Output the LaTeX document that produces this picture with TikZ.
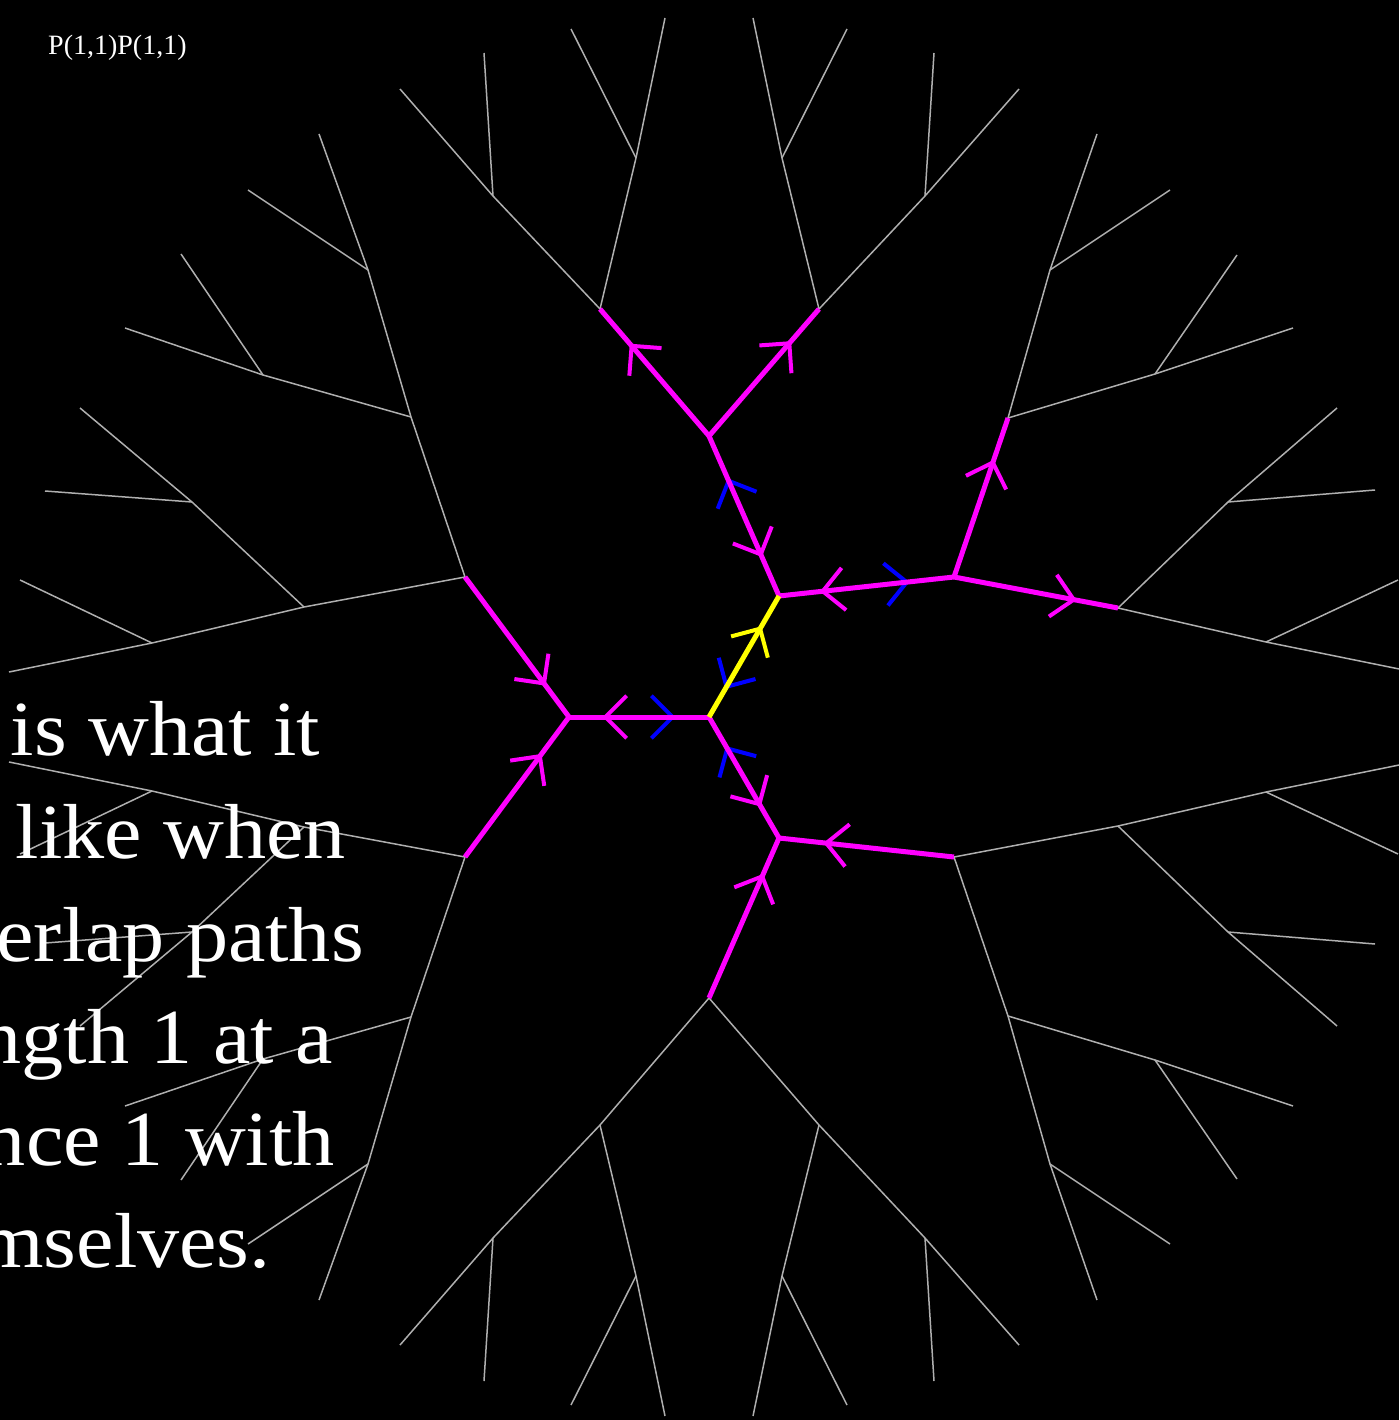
\documentclass[tikz,border=0pt]{standalone}
\usepackage{fontspec}
\usepackage{graphicx}
\setmainfont{Liberation Serif}
\usetikzlibrary{calc}
\definecolor{mag}{RGB}{255,0,255}
\definecolor{blu}{RGB}{0,0,255}
\definecolor{yel}{RGB}{255,255,0}
\definecolor{edgegray}{RGB}{175,175,175}
\tikzset{
  grayedge/.style={edgegray, line width=1.5pt},
  pathedge/.style={line width=5pt},
  chevline/.style={line width=4pt},
  bigtext/.style={text=white, anchor=base east, inner sep=0pt, font=\fontsize{78}{90}\selectfont},
  toplabel/.style={text=white, anchor=base west, inner sep=0pt, font=\fontsize{28}{32}\selectfont}
}
\newcommand\arrowchev[4]{%
  \coordinate (tip) at ($(#2)!#4!(#3)$);
  \draw[chevline,#1] ($(tip)!30pt!45:(#2)$) -- (tip) -- ($(tip)!30pt!-45:(#2)$);}
\begin{document}
\begin{tikzpicture}[x=1pt,y=-1pt]
\path[use as bounding box] (0,0) rectangle (1399,1420);
\fill[black] (0,0) rectangle (1399,1420);
\clip (0,0) rectangle (1399,1420);
% ---- vertices: top half ----
\coordinate (A) at (709,717);
\coordinate (C) at (569,717);
\coordinate (B) at (779,596);
\coordinate (E) at (709,436);
\coordinate (F) at (954,577);
\coordinate (G) at (465,577);
\coordinate (E1) at (600,309);  \coordinate (E2) at (819,309);
\coordinate (F1) at (1008,418); \coordinate (F2) at (1118,608);
\coordinate (G1) at (411,417);  \coordinate (G2) at (304,607);
\coordinate (E11) at (493,196); \coordinate (E12) at (636,158);
\coordinate (E21) at (925,196); \coordinate (E22) at (782,158);
\coordinate (F11) at (1050,270); \coordinate (F12) at (1155,374);
\coordinate (F21) at (1228,502); \coordinate (F22) at (1266,642);
\coordinate (G11) at (368,270); \coordinate (G12) at (263,375);
\coordinate (G21) at (192,502); \coordinate (G22) at (152,643);
\coordinate (E111) at (400,89);  \coordinate (E112) at (484,53);
\coordinate (E121) at (571,29);  \coordinate (E122) at (665,18);
\coordinate (E211) at (1019,89); \coordinate (E212) at (934,53);
\coordinate (E221) at (847,29);  \coordinate (E222) at (753,18);
\coordinate (F111) at (1097,134); \coordinate (F112) at (1170,190);
\coordinate (F121) at (1237,255); \coordinate (F122) at (1293,328);
\coordinate (F211) at (1337,408); \coordinate (F212) at (1375,490);
\coordinate (F221) at (1398,580); \coordinate (F222) at (1409,671);
\coordinate (G111) at (319,134); \coordinate (G112) at (248,190);
\coordinate (G121) at (181,254); \coordinate (G122) at (125,328);
\coordinate (G211) at (80,408);  \coordinate (G212) at (45,491);
\coordinate (G221) at (20,580);  \coordinate (G222) at (9,672);
% ---- vertices: bottom half ----
\coordinate (D) at (779,838);
\coordinate (J) at (709,998);
\coordinate (I) at (954,857);
\coordinate (H) at (465,857);
\coordinate (J1) at (600,1125);  \coordinate (J2) at (819,1125);
\coordinate (I1) at (1008,1016); \coordinate (I2) at (1118,826);
\coordinate (H1) at (411,1017);  \coordinate (H2) at (304,827);
\coordinate (J11) at (493,1238); \coordinate (J12) at (636,1276);
\coordinate (J21) at (925,1238); \coordinate (J22) at (782,1276);
\coordinate (I11) at (1050,1164); \coordinate (I12) at (1155,1060);
\coordinate (I21) at (1228,932); \coordinate (I22) at (1266,792);
\coordinate (H11) at (368,1164); \coordinate (H12) at (263,1059);
\coordinate (H21) at (192,932);  \coordinate (H22) at (152,791);
\coordinate (J111) at (400,1345); \coordinate (J112) at (484,1381);
\coordinate (J121) at (571,1405); \coordinate (J122) at (665,1416);
\coordinate (J211) at (1019,1345); \coordinate (J212) at (934,1381);
\coordinate (J221) at (847,1405); \coordinate (J222) at (753,1416);
\coordinate (I111) at (1097,1300); \coordinate (I112) at (1170,1244);
\coordinate (I121) at (1237,1179); \coordinate (I122) at (1293,1106);
\coordinate (I211) at (1337,1026); \coordinate (I212) at (1375,944);
\coordinate (I221) at (1398,854); \coordinate (I222) at (1409,763);
\coordinate (H111) at (319,1300); \coordinate (H112) at (248,1244);
\coordinate (H121) at (181,1180); \coordinate (H122) at (125,1106);
\coordinate (H211) at (80,1026);  \coordinate (H212) at (45,943);
\coordinate (H221) at (20,854);   \coordinate (H222) at (9,762);
% ---- gray tree ----
\foreach \p in {G,H,I,J} {
  \draw[grayedge] (\p) -- (\p1);
  \draw[grayedge] (\p) -- (\p2);
}
\foreach \r in {E1,E2,F1,F2,G1,G2,H1,H2,I1,I2,J1,J2} {
  \foreach \a in {1,2} {
    \draw[grayedge] (\r) -- (\r\a);
    \foreach \b in {1,2} {
      \draw[grayedge] (\r\a) -- (\r\a\b);
    }
  }
}
% ---- blue chevrons (under the paths) ----
\arrowchev{blu}{B}{A}{0.75}
\arrowchev{blu}{C}{A}{0.74}
\arrowchev{blu}{D}{A}{0.74}
\arrowchev{blu}{B}{E}{0.72}
\arrowchev{blu}{B}{F}{0.73}
% ---- coloured paths ----
\draw[pathedge, mag] (A) -- (C);
\draw[pathedge, mag] (A) -- (D);
\draw[pathedge, mag] (C) -- (G);
\draw[pathedge, mag] (C) -- (H);
\draw[pathedge, mag] (B) -- (E);
\draw[pathedge, mag] (B) -- (F);
\draw[pathedge, mag] (D) -- (I);
\draw[pathedge, mag] (D) -- (J);
\draw[pathedge, mag] (E) -- (E1);
\draw[pathedge, mag] (E) -- (E2);
\draw[pathedge, mag] (F) -- (F1);
\draw[pathedge, mag] (F) -- (F2);
\draw[pathedge, yel] (A) -- (B);
% ---- magenta and yellow chevrons ----
\arrowchev{mag}{G}{C}{0.76}
\arrowchev{mag}{H}{C}{0.72}
\arrowchev{mag}{A}{C}{0.74}
\arrowchev{mag}{A}{D}{0.72}
\arrowchev{mag}{E}{B}{0.74}
\arrowchev{mag}{F}{B}{0.75}
\arrowchev{mag}{E}{E1}{0.71}
\arrowchev{mag}{E}{E2}{0.73}
\arrowchev{mag}{F}{F1}{0.72}
\arrowchev{mag}{F}{F2}{0.73}
\arrowchev{mag}{I}{D}{0.73}
\arrowchev{mag}{J}{D}{0.76}
\arrowchev{yel}{A}{B}{0.73}
% ---- texts ----
\node[toplabel] (ptext) at (48,55) {P(1,1)P(1,1)};
\node[bigtext] (t1) at (320,755) {\scalebox{1.08}[1]{is what it}};
\node[bigtext] (t2) at (346,858) {\scalebox{1.08}[1]{like when}};
\node[bigtext] (t3) at (364,961) {\scalebox{1.08}[1]{erlap paths}};
\node[bigtext] (t4) at (333,1063) {\scalebox{1.08}[1]{ngth 1 at a}};
\node[bigtext] (t5) at (335,1165) {\scalebox{1.08}[1]{nce 1 with}};
\node[bigtext] (t6) at (271,1267) {\scalebox{1.08}[1]{mselves.}};
\end{tikzpicture}
\end{document}
